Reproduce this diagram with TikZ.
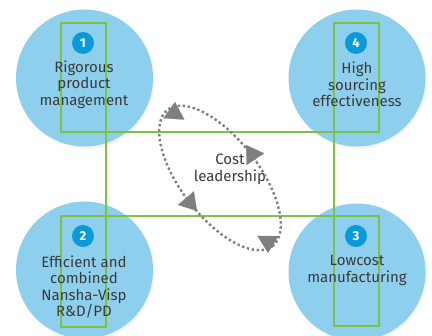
\documentclass[tikz,border=0pt]{standalone}
\usepackage{fontspec}
\setmainfont{Fira Sans}
\usepackage{xcolor}
\usepackage{tikz}
\usetikzlibrary{arrows.meta,shadows}
\definecolor{skyfill}{HTML}{8FCFEE}
\definecolor{numblue}{HTML}{0B9AD8}
\definecolor{leaf}{HTML}{7DC242}
\definecolor{loopgray}{HTML}{7E7F82}
\definecolor{ink}{HTML}{3A3A3A}

\begin{document}
\begin{tikzpicture}[x=1pt,y=1pt,
  blob/.style={circle,fill=skyfill,minimum size=137pt,inner sep=0pt,
               circular drop shadow={shadow xshift=1pt,shadow yshift=-1.5pt,
                                     shadow scale=1.02,opacity=.35}},
  num/.style={circle,fill=numblue,text=white,minimum size=22pt,inner sep=0pt,
              font=\fontsize{13}{13}\selectfont\bfseries},
  lbl/.style={align=center,text=ink,inner sep=0pt,
              font=\fontsize{15}{16.5}\selectfont},
  frm/.style={draw=leaf,line width=2.5pt},
  loop/.style={draw=loopgray,line width=2.4pt,dash pattern=on 2.4pt off 2.6pt},
  head/.style={-{Triangle[length=17pt,width=21pt]},draw=loopgray,line width=.2pt}
]
\useasboundingbox (0,0) rectangle (432,336);

% the four circles
\node[blob] (c1) at (84.5,258) {};
\node[blob] (c4) at (357,258) {};
\node[blob] (c2) at (84.5,66) {};
\node[blob] (c3) at (357,64) {};

% green frames
\draw[frm] (106,120) rectangle (334,204);
\draw[frm] (61,204) rectangle (106,313);
\draw[frm] (334,204) rectangle (379,313);
\draw[frm] (61,9) rectangle (106,120);
\draw[frm] (334,10) rectangle (379,120);

% badges
\node[num] (n1) at (83,293) {1};
\node[num] (n4) at (356,293) {4};
\node[num] (n2) at (83,100) {2};
\node[num] (n3) at (356,100) {3};

% texts
\node[lbl] (t1) at (84,251.5) {Rigorous\\product\\management};
\node[lbl] (t4) at (357,251.5) {High\\sourcing\\effectiveness};
\node[lbl] (t2) at (84,49) {Efficient and\\combined\\Nansha-Visp\\R\&D/PD};
\node[lbl] (t3) at (357,65.5) {Lowcost\\manufacturing};
\node[lbl] (cost) at (230,166.5) {Cost\\leadership};

% dotted loop with heads
\draw[loop,rotate around={-52.5:(220,158)}] (220,158) ellipse [x radius=86pt,y radius=39pt];
\coordinate (h1) at (174,218.5); \coordinate (h1t) at (175,234);
\coordinate (h2) at (258,173);   \coordinate (h2t) at (246,191);
\coordinate (h3) at (268,99);    \coordinate (h3t) at (268,83);
\coordinate (h4) at (185,139);   \coordinate (h4t) at (197,125);
\draw[head] (h1) -- (h1t);
\draw[head] (h2) -- (h2t);
\draw[head] (h3) -- (h3t);
\draw[head] (h4) -- (h4t);
\end{tikzpicture}
\end{document}
